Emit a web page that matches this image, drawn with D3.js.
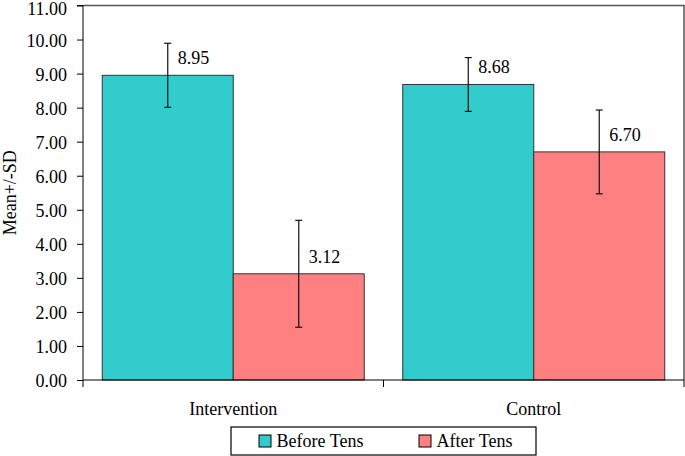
<!DOCTYPE html>
<html>
<head>
<meta charset="utf-8">
<script src="https://cdn.jsdelivr.net/npm/d3@7"></script>
<style>
  body { margin: 0; background: #fff; }
</style>
</head>
<body>
<div id="chart"></div>
<script>
// data
const groups = ["Intervention", "Control"];
const series = ["Before Tens", "After Tens"];
const before = [8.95, 8.68];
const after = [3.12, 6.70];
const beforeSD = [0.94, 0.79];
const afterSD = [1.57, 1.23];
const yTicks = [0, 1, 2, 3, 4, 5, 6, 7, 8, 9, 10, 11];
const colors = ["#33cccc", "#ff8080"];

const W = 685, H = 456;
const plot = { left: 83, right: 684, top: 5.5, bottom: 380 };
const serif = "'Liberation Serif'";

const rows = [];
groups.forEach((g, i) => {
  rows.push({ group: g, s: series[0], v: before[i], sd: beforeSD[i] });
  rows.push({ group: g, s: series[1], v: after[i], sd: afterSD[i] });
});

const svg = d3.select("#chart").append("svg")
  .attr("width", W).attr("height", H);

const x0 = d3.scaleBand().domain(groups).range([plot.left, plot.right]).padding(0);
const x1 = d3.scaleBand().domain(series).range([0, x0.bandwidth()])
  .paddingInner(0).paddingOuter(0.147);
const y = d3.scaleLinear().domain([0, 11]).range([plot.bottom, plot.top]);
const color = d3.scaleOrdinal().domain(series).range(colors);

// plot area frame (top + right)
svg.append("path")
  .attr("d", `M${plot.left},${plot.top}H${plot.right}V${plot.bottom}`)
  .attr("fill", "none").attr("stroke", "#555").attr("stroke-width", 1.5);

// bars
svg.selectAll("rect.bar").data(rows).enter().append("rect")
  .attr("class", "bar")
  .attr("x", d => x0(d.group) + x1(d.s))
  .attr("y", d => y(d.v))
  .attr("width", x1.bandwidth())
  .attr("height", d => y(0) - y(d.v))
  .attr("fill", d => color(d.s))
  .attr("stroke", "#333").attr("stroke-width", 1);

// error bars
const eb = svg.selectAll("g.err").data(rows).enter().append("g").attr("class", "err")
  .attr("stroke", "#111").attr("stroke-width", 1.2);
const cx = d => x0(d.group) + x1(d.s) + x1.bandwidth() / 2;
eb.append("line")
  .attr("x1", cx).attr("x2", cx)
  .attr("y1", d => y(d.v + d.sd)).attr("y2", d => y(d.v - d.sd));
eb.append("line")
  .attr("x1", d => cx(d) - 3.5).attr("x2", d => cx(d) + 3.5)
  .attr("y1", d => y(d.v + d.sd)).attr("y2", d => y(d.v + d.sd));
eb.append("line")
  .attr("x1", d => cx(d) - 3.5).attr("x2", d => cx(d) + 3.5)
  .attr("y1", d => y(d.v - d.sd)).attr("y2", d => y(d.v - d.sd));

// value labels
svg.selectAll("text.val").data(rows).enter().append("text")
  .attr("class", "val")
  .attr("x", d => cx(d) + 10)
  .attr("y", d => y(d.v) - 11)
  .style("font-family", serif).style("font-size", "18px")
  .text(d => d.v.toFixed(2));

// y axis
const yAxis = svg.append("g")
  .attr("transform", `translate(${plot.left},0)`)
  .call(d3.axisLeft(y).tickValues(yTicks).tickSize(6).tickPadding(10)
    .tickFormat(d => d.toFixed(2)));
yAxis.select(".domain").attr("stroke", "#000").attr("d", `M-6,${plot.top}H0V${plot.bottom}`);
yAxis.selectAll("line").attr("stroke", "#000");
yAxis.selectAll("text").attr("fill", "#000")
  .attr("dy", d => d === 11 ? "0.5em" : "0.38em")
  .style("font-family", serif).style("font-size", "18px");

// x axis
const xa = svg.append("g").attr("transform", `translate(0,${plot.bottom})`);
xa.append("line").attr("x1", plot.left).attr("x2", plot.right)
  .attr("stroke", "#000").attr("stroke-width", 1.2);
xa.selectAll("line.tick").data(groups.concat(["end"])).enter().append("line")
  .attr("class", "tick")
  .attr("x1", (d, i) => i < groups.length ? x0(d) : plot.right)
  .attr("x2", (d, i) => i < groups.length ? x0(d) : plot.right)
  .attr("y1", 0).attr("y2", 7)
  .attr("stroke", "#000");
xa.selectAll("text").data(groups).enter().append("text")
  .attr("x", d => x0(d) + x0.bandwidth() / 2)
  .attr("y", 35)
  .attr("text-anchor", "middle")
  .style("font-family", serif).style("font-size", "18px")
  .text(d => d);

// y title
svg.append("text")
  .attr("transform", `translate(16,${(plot.top + plot.bottom) / 2}) rotate(-90)`)
  .attr("text-anchor", "middle")
  .style("font-family", serif).style("font-size", "18px")
  .text("Mean+/-SD");

// legend
const lg = svg.append("g");
lg.append("rect").attr("x", 231).attr("y", 427).attr("width", 305).attr("height", 28)
  .attr("fill", "#fff").attr("stroke", "#000").attr("stroke-width", 1.2);
const li = lg.selectAll("g.item").data(series).enter().append("g")
  .attr("transform", (d, i) => `translate(${259 + i * 160},435)`);
li.append("rect").attr("width", 12).attr("height", 12)
  .attr("fill", d => color(d)).attr("stroke", "#000");
li.append("text").attr("x", 17.5).attr("y", 12)
  .style("font-family", serif).style("font-size", "18px")
  .text(d => d);
</script>
</body>
</html>
